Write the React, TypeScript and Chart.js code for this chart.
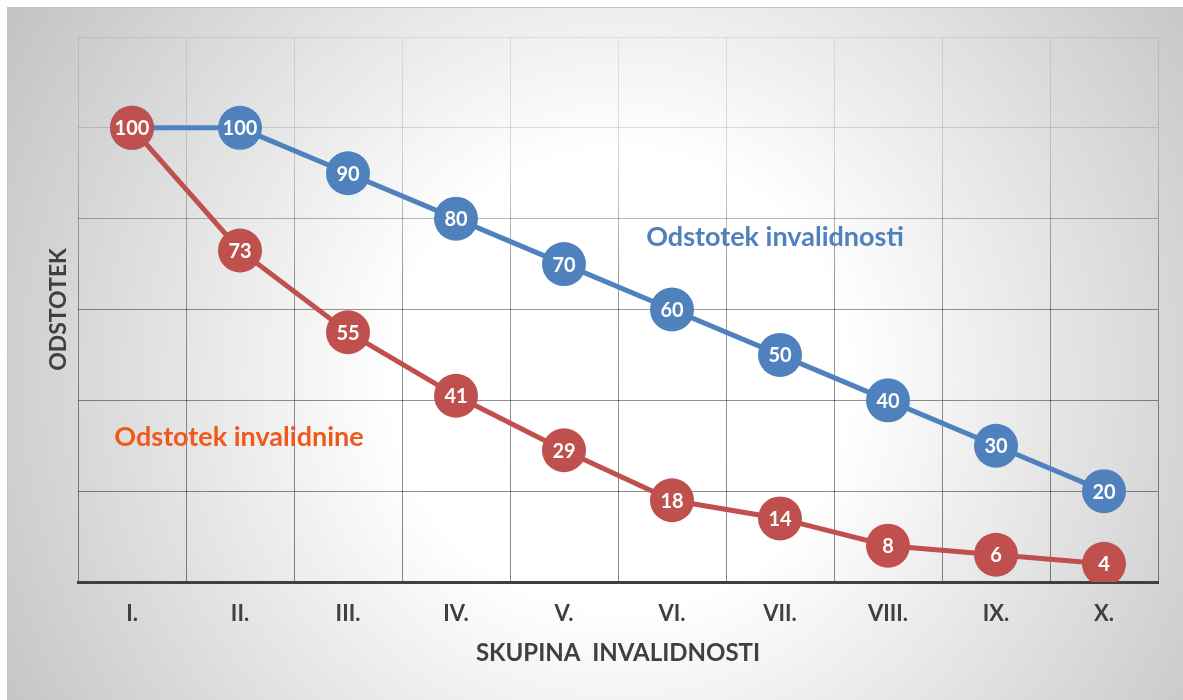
import React, { useEffect, useRef } from "react";
import { Chart, registerables } from "chart.js";

Chart.register(...registerables);

const categories = ["I.", "II.", "III.", "IV.", "V.", "VI.", "VII.", "VIII.", "IX.", "X."];
const invalidnostValues = [100, 100, 90, 80, 70, 60, 50, 40, 30, 20];
const invalidnineValues = [100, 73, 55, 41, 29, 18, 14, 8, 6, 4];
const yMin = 0;
const yMax = 120;
const yStep = 20;

const BLUE = "#4f81bd";
const RED = "#c0504d";
const FONT = "Lato, 'Open Sans', sans-serif";

const backgroundPlugin = {
  id: "bgPlugin",
  beforeDraw(chart: any) {
    const { ctx, width, height } = chart;
    ctx.save();
    ctx.fillStyle = "#ffffff";
    ctx.fillRect(0, 0, width, height);
    const g = ctx.createRadialGradient(620, 380, 0, 620, 380, 760);
    g.addColorStop(0, "#ffffff");
    g.addColorStop(0.3, "#ffffff");
    g.addColorStop(1, "#bdbdbd");
    ctx.fillStyle = g;
    ctx.fillRect(7, 7, width - 7, height - 7);
    ctx.strokeStyle = "#c4c4c4";
    ctx.lineWidth = 1;
    ctx.beginPath();
    ctx.moveTo(7.5, height);
    ctx.lineTo(7.5, 7.5);
    ctx.lineTo(width, 7.5);
    ctx.stroke();
    ctx.restore();
  },
};

const labelsPlugin = {
  id: "pointLabels",
  afterDatasetDraw(chart: any, args: any) {
    const { ctx } = chart;
    const meta = args.meta;
    const ds = chart.data.datasets[args.index];
    ctx.save();
    ctx.fillStyle = "#ffffff";
    ctx.font = `bold 20px ${FONT}`;
    ctx.textAlign = "center";
    ctx.textBaseline = "middle";
    meta.data.forEach((pt: any, i: number) => {
      ctx.fillText(String(ds.data[i]), pt.x, pt.y + 1);
    });
    ctx.restore();
  },
};

const annotationsPlugin = {
  id: "seriesNames",
  afterDatasetsDraw(chart: any) {
    const { ctx } = chart;
    ctx.save();
    ctx.font = `bold 27px ${FONT}`;
    ctx.textAlign = "center";
    ctx.textBaseline = "middle";
    ctx.fillStyle = BLUE;
    ctx.fillText("Odstotek invalidnosti", 775, 237);
    ctx.fillStyle = "#f0581c";
    ctx.fillText("Odstotek invalidnine", 239, 437);
    ctx.restore();
  },
};

function gridColor(context: any) {
  const chart = context.chart;
  const ca = chart.chartArea;
  if (!ca) return "rgba(0,0,0,0.3)";
  const g = chart.ctx.createLinearGradient(0, ca.top, 0, ca.bottom);
  g.addColorStop(0, "rgba(0,0,0,0.08)");
  g.addColorStop(0.2, "rgba(0,0,0,0.14)");
  g.addColorStop(0.45, "rgba(0,0,0,0.4)");
  g.addColorStop(1, "rgba(0,0,0,0.47)");
  return g;
}

export default function App() {
  const canvasRef = useRef<HTMLCanvasElement | null>(null);

  useEffect(() => {
    document.body.style.margin = "0";
    const canvas = canvasRef.current;
    if (!canvas) return;
    const chart = new Chart(canvas, {
      type: "line",
      data: {
        labels: categories,
        datasets: [
          {
            label: "Odstotek invalidnine",
            data: invalidnineValues,
            borderColor: RED,
            backgroundColor: RED,
            pointBackgroundColor: RED,
            pointBorderColor: RED,
            borderWidth: 5,
            pointRadius: 22,
            pointBorderWidth: 0,
            pointHoverRadius: 22,
            tension: 0,
          },
          {
            label: "Odstotek invalidnosti",
            data: invalidnostValues,
            borderColor: BLUE,
            backgroundColor: BLUE,
            pointBackgroundColor: BLUE,
            pointBorderColor: BLUE,
            borderWidth: 5,
            pointRadius: 22,
            pointBorderWidth: 0,
            pointHoverRadius: 22,
            tension: 0,
          },
        ],
      },
      options: {
        responsive: false,
        animation: false,
        devicePixelRatio: 1,
        layout: { padding: { top: 37, right: 25, left: 0, bottom: 0 } },
        plugins: {
          legend: { display: false },
          tooltip: { enabled: false },
        },
        scales: {
          x: {
            offset: true,
            grid: {
              offset: true,
              drawTicks: false,
              color: gridColor,
              lineWidth: 1,
            },
            border: { display: true, color: "#404040", width: 3 },
            ticks: {
              padding: 19,
              color: "#404040",
              font: { family: FONT, size: 22, weight: "bold" },
            },
            title: {
              display: true,
              text: "SKUPINA  INVALIDNOSTI",
              color: "#404040",
              font: { family: FONT, size: 24, weight: "bold" },
              padding: { top: 0, bottom: 32 },
            },
            afterFit(scale: any) {
              scale.height = 118;
            },
          },
          y: {
            min: yMin,
            max: yMax,
            ticks: { display: false, stepSize: yStep },
            grid: { drawTicks: false, color: gridColor, lineWidth: 1 },
            border: { display: false },
            title: {
              display: true,
              text: "ODSTOTEK",
              color: "#404040",
              font: { family: FONT, size: 23, weight: "bold" },
              padding: { top: 45, bottom: 0 },
            },
            afterFit(scale: any) {
              scale.width = 78;
            },
          },
        },
      },
      plugins: [backgroundPlugin, labelsPlugin, annotationsPlugin],
    } as any);
    return () => chart.destroy();
  }, []);

  return (
    <div style={{ position: "relative", width: 1183, height: 700 }}>
      <canvas ref={canvasRef} width={1183} height={700} style={{ display: "block" }} />
    </div>
  );
}
